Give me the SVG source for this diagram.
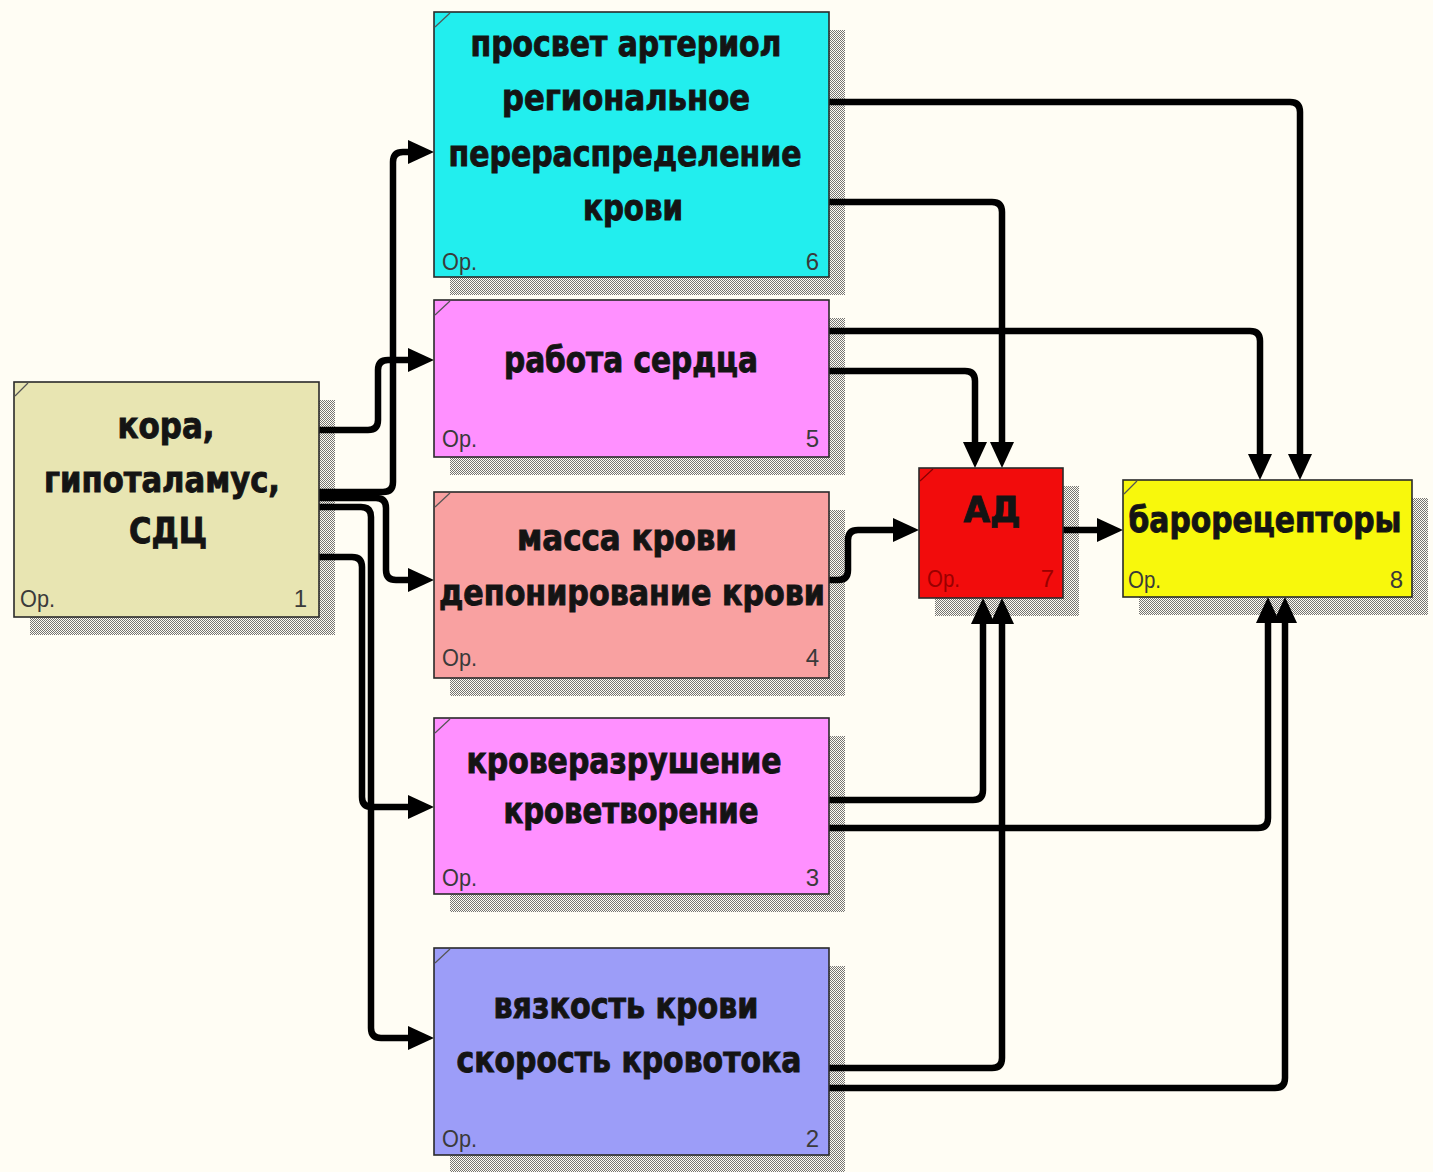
<svg xmlns="http://www.w3.org/2000/svg" width="1433" height="1172" viewBox="0 0 1433 1172">
<style>
.bg{fill:#FFFDF4}
.shadow{fill:url(#hatch)}
.box{stroke:#2a2a2a;stroke-width:1.6}
.mark{stroke:#555;stroke-width:1.2}
.lbl{font-family:"DejaVu Sans Condensed","DejaVu Sans","Liberation Sans",sans-serif;font-weight:bold;font-size:36px;fill:#141414;stroke:#141414;stroke-width:0.9;text-anchor:middle}
.op{font-family:"Liberation Sans","DejaVu Sans",sans-serif;font-size:24px;fill:#3a3a3a}
.num{font-family:"Liberation Sans","DejaVu Sans",sans-serif;font-size:24px;fill:#3a3a3a;text-anchor:end}
.conn{fill:none;stroke:#000;stroke-width:6.5;stroke-linejoin:round}
</style>
<defs>
<pattern id="hatch" width="2" height="2" patternUnits="userSpaceOnUse">
<rect x="0" y="0" width="1" height="1" fill="#3a3a3a" fill-opacity="0.7"/>
<rect x="1" y="1" width="1" height="1" fill="#3a3a3a" fill-opacity="0.7"/>
</pattern>
<marker id="arr" viewBox="0 0 26 24" refX="6" refY="12" markerWidth="26" markerHeight="24" markerUnits="userSpaceOnUse" orient="auto">
<path d="M0,0 L26,12 L0,24 Z" fill="#000"/>
</marker>
</defs>
<rect class="bg" x="0" y="0" width="1433" height="1172"/>

<g id="shadows">
<rect class="shadow" x="30" y="400" width="305" height="235"/>
<rect class="shadow" x="450" y="30" width="395" height="265"/>
<rect class="shadow" x="450" y="318" width="395" height="157"/>
<rect class="shadow" x="450" y="510" width="395" height="186"/>
<rect class="shadow" x="450" y="736" width="395" height="176"/>
<rect class="shadow" x="450" y="966" width="395" height="207"/>
<rect class="shadow" x="935" y="486" width="144" height="130"/>
<rect class="shadow" x="1139" y="498" width="289" height="117"/>
</g>

<g id="connectors">
<path class="conn" marker-end="url(#arr)" d="M319,430 H368 Q378,430 378,420 V370 Q378,360 388,360 H414"/>
<path class="conn" marker-end="url(#arr)" d="M319,492 H383 Q393,492 393,482 V162 Q393,152 403,152 H414"/>
<path class="conn" marker-end="url(#arr)" d="M319,498 H376 Q386,498 386,508 V570 Q386,580 396,580 H414"/>
<path class="conn" marker-end="url(#arr)" d="M319,507 H361 Q371,507 371,517 V1028 Q371,1038 381,1038 H414"/>
<path class="conn" marker-end="url(#arr)" d="M319,557 H352 Q362,557 362,567 V797 Q362,807 372,807 H414"/>
<path class="conn" marker-end="url(#arr)" d="M829,102 H1290 Q1300,102 1300,112 V460"/>
<path class="conn" marker-end="url(#arr)" d="M829,202 H992 Q1002,202 1002,212 V448"/>
<path class="conn" marker-end="url(#arr)" d="M829,331 H1250 Q1260,331 1260,341 V460"/>
<path class="conn" marker-end="url(#arr)" d="M829,371 H965 Q975,371 975,381 V448"/>
<path class="conn" marker-end="url(#arr)" d="M829,580 H838 Q848,580 848,570 V540 Q848,530 858,530 H899"/>
<path class="conn" marker-end="url(#arr)" d="M1063,530 H1103"/>
<path class="conn" marker-end="url(#arr)" d="M829,800 H973 Q983,800 983,790 V618"/>
<path class="conn" marker-end="url(#arr)" d="M829,828 H1258 Q1268,828 1268,818 V617"/>
<path class="conn" marker-end="url(#arr)" d="M829,1068 H992 Q1002,1068 1002,1058 V618"/>
<path class="conn" marker-end="url(#arr)" d="M829,1088 H1275 Q1285,1088 1285,1078 V617"/>
</g>

<g id="node1">
<rect class="box" x="14" y="382" width="305" height="235" fill="#E8E5B2"/>
<line class="mark" x1="15" y1="396" x2="28" y2="383"/>
<text class="lbl" x="166" y="438" textLength="97" lengthAdjust="spacingAndGlyphs">кора,</text>
<text class="lbl" x="162" y="492" textLength="236" lengthAdjust="spacingAndGlyphs">гипоталамус,</text>
<text class="lbl" x="168" y="543" textLength="78" lengthAdjust="spacingAndGlyphs">СДЦ</text>
<text class="op" x="20" y="607" textLength="35" lengthAdjust="spacingAndGlyphs">Ор.</text>
<text class="num" x="307" y="607">1</text>
</g>

<g id="node6">
<rect class="box" x="434" y="12" width="395" height="265" fill="#22EEEE"/>
<line class="mark" x1="435" y1="27" x2="450" y2="13"/>
<text class="lbl" x="626" y="56" textLength="311" lengthAdjust="spacingAndGlyphs">просвет артериол</text>
<text class="lbl" x="626" y="110" textLength="248" lengthAdjust="spacingAndGlyphs">региональное</text>
<text class="lbl" x="625" y="166" textLength="353" lengthAdjust="spacingAndGlyphs">перераспределение</text>
<text class="lbl" x="633" y="220" textLength="100" lengthAdjust="spacingAndGlyphs">крови</text>
<text class="op" x="442" y="270" textLength="35" lengthAdjust="spacingAndGlyphs">Ор.</text>
<text class="num" x="819" y="270">6</text>
</g>

<g id="node5">
<rect class="box" x="434" y="300" width="395" height="157" fill="#FF90FF"/>
<line class="mark" x1="435" y1="315" x2="450" y2="301"/>
<text class="lbl" x="631" y="372" textLength="254" lengthAdjust="spacingAndGlyphs">работа сердца</text>
<text class="op" x="442" y="447" textLength="35" lengthAdjust="spacingAndGlyphs">Ор.</text>
<text class="num" x="819" y="447">5</text>
</g>

<g id="node4">
<rect class="box" x="434" y="492" width="395" height="186" fill="#F9A1A1"/>
<line class="mark" x1="435" y1="507" x2="450" y2="493"/>
<text class="lbl" x="627" y="550" textLength="220" lengthAdjust="spacingAndGlyphs">масса крови</text>
<text class="lbl" x="632" y="605" textLength="386" lengthAdjust="spacingAndGlyphs">депонирование крови</text>
<text class="op" x="442" y="666" textLength="35" lengthAdjust="spacingAndGlyphs">Ор.</text>
<text class="num" x="819" y="666">4</text>
</g>

<g id="node3">
<rect class="box" x="434" y="718" width="395" height="176" fill="#FF90FF"/>
<line class="mark" x1="435" y1="733" x2="450" y2="719"/>
<text class="lbl" x="624" y="773" textLength="315" lengthAdjust="spacingAndGlyphs">кроверазрушение</text>
<text class="lbl" x="631" y="823" textLength="255" lengthAdjust="spacingAndGlyphs">кроветворение</text>
<text class="op" x="442" y="886" textLength="35" lengthAdjust="spacingAndGlyphs">Ор.</text>
<text class="num" x="819" y="886">3</text>
</g>

<g id="node2">
<rect class="box" x="434" y="948" width="395" height="207" fill="#9C9DF8"/>
<line class="mark" x1="435" y1="963" x2="450" y2="949"/>
<text class="lbl" x="626" y="1018" textLength="265" lengthAdjust="spacingAndGlyphs">вязкость крови</text>
<text class="lbl" x="629" y="1072" textLength="345" lengthAdjust="spacingAndGlyphs">скорость кровотока</text>
<text class="op" x="442" y="1147" textLength="35" lengthAdjust="spacingAndGlyphs">Ор.</text>
<text class="num" x="819" y="1147">2</text>
</g>

<g id="node7">
<rect class="box" x="919" y="468" width="144" height="130" fill="#F20C0C"/>
<line class="mark" x1="920" y1="481" x2="933" y2="469" style="stroke:#800"/>
<text class="lbl" x="992" y="522" textLength="57" lengthAdjust="spacingAndGlyphs">АД</text>
<text class="op" x="927" y="587" textLength="33" lengthAdjust="spacingAndGlyphs" style="fill:#9a0000">Ор.</text>
<text class="num" x="1054" y="587" style="fill:#9a0000">7</text>
</g>

<g id="node8">
<rect class="box" x="1123" y="480" width="289" height="117" fill="#F8F80C"/>
<line class="mark" x1="1124" y1="494" x2="1137" y2="481"/>
<text class="lbl" x="1265" y="532" textLength="273" lengthAdjust="spacingAndGlyphs">барорецепторы</text>
<text class="op" x="1128" y="588" textLength="33" lengthAdjust="spacingAndGlyphs">Ор.</text>
<text class="num" x="1403" y="588">8</text>
</g>
</svg>
